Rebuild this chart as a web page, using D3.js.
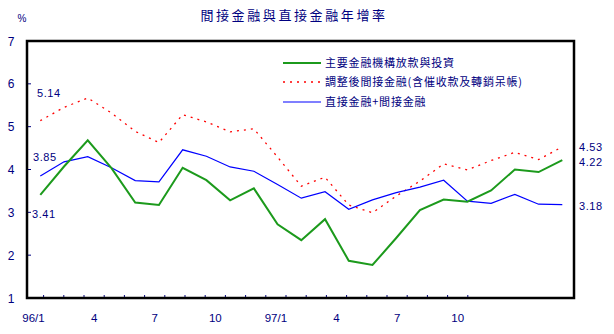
<!DOCTYPE html>
<html><head><meta charset="utf-8">
<script src="https://cdn.jsdelivr.net/npm/d3@7/dist/d3.min.js"></script>
<style>
body{margin:0;background:#fff;}
svg{display:block;}
</style></head>
<body>
<svg id="chart" width="614" height="334"></svg>
<script>
const months = ["96/1","96/2","96/3","96/4","96/5","96/6","96/7","96/8","96/9","96/10","96/11","96/12",
  "97/1","97/2","97/3","97/4","97/5","97/6","97/7","97/8","97/9","97/10","97/11"];
const loansInvest = [3.41,4.07,4.68,4.03,3.23,3.17,4.04,3.75,3.28,3.56,2.72,2.35,2.84,1.87,1.77,2.40,3.05,3.30,3.25,3.51,4.00,3.94,4.22];
const adjIndirect = [5.14,5.45,5.67,5.32,4.89,4.63,5.28,5.11,4.88,4.95,4.29,3.61,3.82,3.17,2.99,3.38,3.73,4.13,3.99,4.21,4.40,4.23,4.53];
const directIndirect = [3.85,4.18,4.30,4.04,3.74,3.71,4.46,4.31,4.06,3.96,3.65,3.33,3.48,3.07,3.29,3.46,3.59,3.75,3.26,3.21,3.42,3.19,3.18];
const seriesNames = ["主要金融機構放款與投資","調整後間接金融(含催收款及轉銷呆帳)","直接金融+間接金融"];
const yTicks = [1,2,3,4,5,6,7];
const xTickLabels = ["96/1","4","7","10","97/1","4","7","10"];
const title = "間接金融與直接金融年增率";

const svg = d3.select("#chart");
const navy = "#000080";
const L = 27, R = 574, T = 41, B = 298;

const y = d3.scaleLinear().domain([1,7]).range([B, T]);
const x = d3.scalePoint().domain(months).range([40.3, 562.3]);
const xa = d3.scaleLinear().domain([0,21]).range([33.5, 457.7]);

// title
svg.append("text").attr("x", 294).attr("y", 20).attr("text-anchor","middle")
  .attr("fill", navy).style("font-family","'Noto Sans CJK TC'").style("font-size","13px")
  .style("letter-spacing","2.6px").text(title);
svg.append("text").attr("x", 22).attr("y", 22).attr("text-anchor","middle")
  .attr("fill", navy).style("font-family","'Liberation Sans'").style("font-size","10px").text("%");

// y tick labels
svg.append("g").selectAll("text").data(yTicks).join("text")
  .attr("x", 11).attr("y", d => y(d) + 4.5).attr("text-anchor","middle")
  .attr("fill", navy).style("font-family","'Liberation Sans'").style("font-size","12px")
  .text(d => d);
// y ticks inward
svg.append("g").selectAll("line").data(yTicks.slice(1,-1)).join("line")
  .attr("x1", L).attr("x2", L+4).attr("y1", d => y(d)).attr("y2", d => y(d))
  .attr("stroke", navy).attr("stroke-width", 1);

// x ticks
const xTickIdx = d3.range(22).map(i => i + 0.5);
svg.append("g").selectAll("line").data(xTickIdx).join("line")
  .attr("x1", d => xa(d)).attr("x2", d => xa(d)).attr("y1", B).attr("y2", B-3)
  .attr("stroke", navy).attr("stroke-width", 1);
svg.append("g").selectAll("text").data(xTickLabels).join("text")
  .attr("x", (d,i) => xa(i*3)).attr("y", 322).attr("text-anchor","middle")
  .attr("fill", navy).style("font-family","'Liberation Sans'").style("font-size","11.5px")
  .text(d => d);

// frame
svg.append("rect").attr("x", L).attr("y", T).attr("width", R-L).attr("height", B-T)
  .attr("fill","none").attr("stroke","#000").attr("stroke-width", 2.5);

const line = d3.line().x((d,i) => x(months[i])).y(d => y(d));

svg.append("path").datum(adjIndirect).attr("d", line).attr("fill","none")
  .attr("stroke","#ff0000").attr("stroke-width",1.3).attr("stroke-dasharray","2,5");
svg.append("path").datum(directIndirect).attr("d", line).attr("fill","none")
  .attr("stroke","#0000ff").attr("stroke-width",1.2);
svg.append("path").datum(loansInvest).attr("d", line).attr("fill","none")
  .attr("stroke","#1c9a1c").attr("stroke-width",2);

// legend
const leg = [
  {name: seriesNames[0], color:"#1c9a1c", w:2, dash:null, y:63},
  {name: seriesNames[1], color:"#ff0000", w:1.3, dash:"2,5", y:82},
  {name: seriesNames[2], color:"#0000ff", w:1.2, dash:null, y:102}
];
const lg = svg.append("g");
leg.forEach(d => {
  lg.append("line").attr("x1",283).attr("x2",321).attr("y1",d.y).attr("y2",d.y)
    .attr("stroke", d.color).attr("stroke-width", d.w).attr("stroke-dasharray", d.dash);
  lg.append("text").attr("x",325).attr("y", d.y + 4).attr("fill", navy)
    .style("font-family","'Noto Sans CJK TC'").style("font-size","11px").style("letter-spacing","0.8px")
    .text(d.name);
});

// value labels
const vstyle = s => s.attr("fill", navy).style("font-family","'Liberation Sans'").style("font-size","11px").style("letter-spacing","0.6px");
const n = months.length - 1;
vstyle(svg.append("text").attr("x", 37).attr("y", y(adjIndirect[0]) - 24).text(adjIndirect[0].toFixed(2)));
vstyle(svg.append("text").attr("x", 33).attr("y", y(directIndirect[0]) - 15).text(directIndirect[0].toFixed(2)));
vstyle(svg.append("text").attr("x", 32).attr("y", y(loansInvest[0]) + 23).text(loansInvest[0].toFixed(2)));
vstyle(svg.append("text").attr("x", 579).attr("y", 151).text(adjIndirect[n].toFixed(2)));
vstyle(svg.append("text").attr("x", 579).attr("y", 166).text(loansInvest[n].toFixed(2)));
vstyle(svg.append("text").attr("x", 579).attr("y", 210).text(directIndirect[n].toFixed(2)));
</script>
</body></html>
